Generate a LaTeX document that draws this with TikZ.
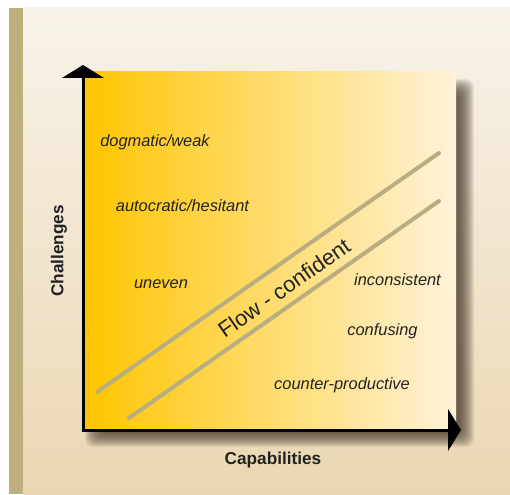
\documentclass[tikz,border=0pt]{standalone}
\usepackage{fontspec}
\setmainfont{Liberation Sans}
\usetikzlibrary{arrows.meta}
\definecolor{bgtop}{HTML}{F8F3EA}
\definecolor{bgbot}{HTML}{EAD7B2}
\definecolor{strip}{HTML}{BDB07D}
\definecolor{gold}{HTML}{FFC500}
\definecolor{cream}{HTML}{FFF2DA}
\definecolor{flowline}{HTML}{B9AE82}
\definecolor{txt}{HTML}{222222}
\definecolor{shadowc}{HTML}{3A2E20}
\tikzset{
  lbl/.style={font=\fontsize{16.4}{19}\selectfont\itshape, text=txt, inner sep=0pt},
  axlbl/.style={font=\fontsize{17.2}{20}\selectfont\bfseries, text=txt, inner sep=0pt},
  axisline/.style={line width=3pt, -{Triangle[width=42pt,length=13pt,line width=0pt,fill=black]}},
  flow/.style={line width=4pt, flowline, line cap=round}
}
\begin{document}
\begin{tikzpicture}[x=1pt,y=-1pt]
\useasboundingbox (0,0) rectangle (510,494);
\fill[white] (0,0) rectangle (510,494);
\shade[top color=bgtop, bottom color=bgbot] (23,8) rectangle (510,494);
\fill[strip] (9,8) rectangle (23,494);
% soft shadow
\foreach \k in {-7,-6,...,7}{
  \fill[shadowc, fill opacity=0.075, rounded corners=8pt]
    (92+\k,86+\k) rectangle (467-\k,440-\k);
}
% plot area
\shade[left color=gold, right color=cream] (83,72) rectangle (456,430);
% diagonal lines
\coordinate (a1) at (97,392);
\coordinate (a2) at (439,153);
\coordinate (b1) at (129,418);
\coordinate (b2) at (439,201);
\draw[flow] (a1) -- (a2);
\draw[flow] (b1) -- (b2);
\node[font=\fontsize{22}{26}\selectfont, text=txt, rotate=35, inner sep=0pt] (flowtxt) at (284,288) {Flow - confident};
% axes
\coordinate (o) at (83,430);
\coordinate (ytip) at (83,65);
\coordinate (xtip) at (461,430);
\draw[axisline] (o) -- (ytip);
\draw[axisline] ([xshift=-1.5pt]o) -- (xtip);
% labels
\node[lbl] (dog) at (155,142) {dogmatic/weak};
\node[lbl] (auto) at (182.5,206) {autocratic/hesitant};
\node[lbl] (unev) at (161,284) {uneven};
\node[lbl] (inco) at (397.5,280) {inconsistent};
\node[lbl] (conf) at (382.5,331) {confusing};
\node[lbl] (coun) at (342,385) {counter-productive};
\node[axlbl] (cap) at (273,460) {Capabilities};
\node[axlbl, rotate=90] (chal) at (59,251) {Challenges};
\end{tikzpicture}
\end{document}
